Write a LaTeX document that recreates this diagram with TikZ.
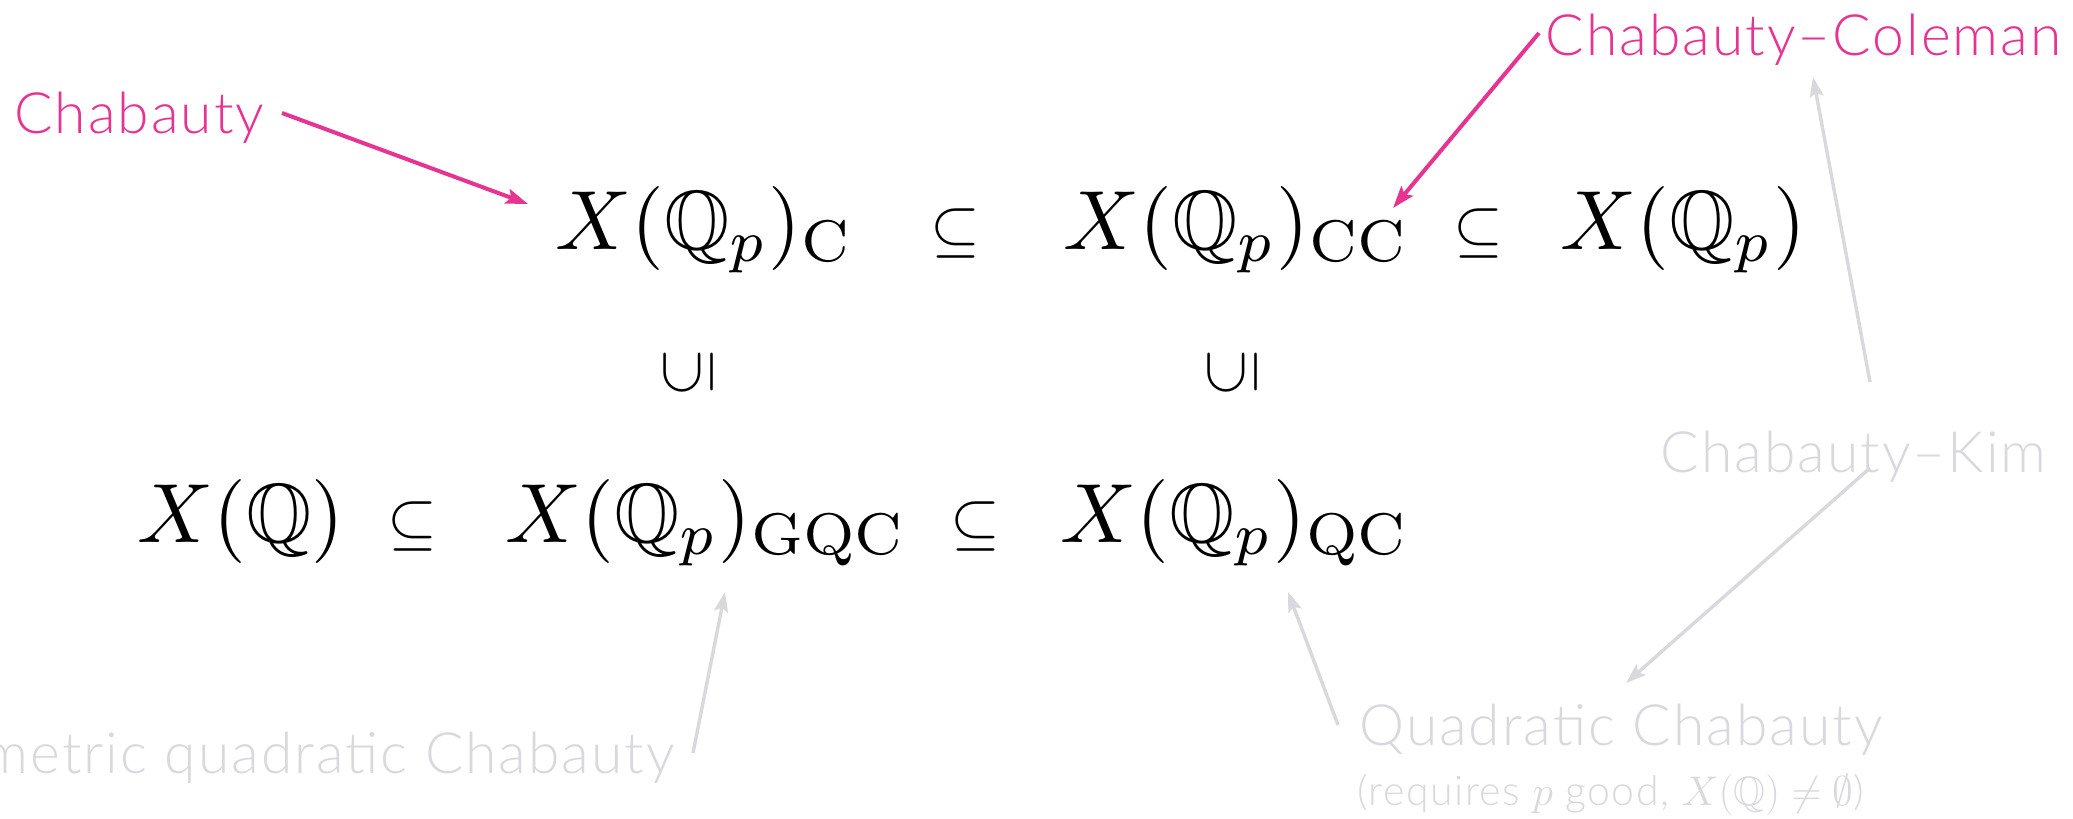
\documentclass[tikz,border=0pt]{standalone}
\usepackage{amssymb}
\usepackage{graphicx}
\usepackage{fontspec}
\newfontfamily\labfont{Lato Light}[LetterSpace=3.5]
\usetikzlibrary{arrows.meta}
\definecolor{cpink}{RGB}{229,52,146}
\definecolor{cgray}{RGB}{217,217,221}
\newcommand\Mbig[1]{\scalebox{4.2}{$#1$}}
\newcommand\Mrel[1]{\scalebox{3.2}{$#1$}}
\begin{document}
\begin{tikzpicture}[x=0.5pt,y=-0.5pt,
  lab/.style={font=\labfont\fontsize{28.5}{32}\selectfont, inner sep=0pt},
  smalllab/.style={font=\labfont\fontsize{20.5}{24}\selectfont, inner sep=0pt, text=cgray},
  pinklab/.style={lab, text=cpink},
  graylab/.style={lab, text=cgray},
  mth/.style={inner sep=0pt, anchor=base west, font=\fontsize{10}{12}\selectfont},
  rel/.style={inner sep=0pt, anchor=base, font=\fontsize{10}{12}\selectfont},
  parr/.style={draw=cpink, line width=2pt, -{Stealth[length=11pt,width=7.5pt,inset=2pt]}},
  garr/.style={draw=cgray, line width=1.7pt, -{Stealth[length=10pt,width=7pt,inset=2pt]}},
]
\useasboundingbox (0,0) rectangle (2073,819);
\clip (0,0) rectangle (2073,819);

% top row
\node[mth] (xc)  at (555,249)  {\Mbig{X(\mathbb{Q}_p)_{\mathrm{C}}}};
\node[rel] (s1)  at (955,249)  {\Mrel{\subseteq}};
\node[mth] (xcc) at (1063,249) {\Mbig{X(\mathbb{Q}_p)_{\mathrm{CC}}}};
\node[rel] (s2)  at (1478,249) {\Mrel{\subseteq}};
\node[mth] (xqp) at (1560,249) {\Mbig{X(\mathbb{Q}_p)}};

% middle
\node[inner sep=0pt, font=\fontsize{10}{12}\selectfont] (u1) at (688,373)  {\rotatebox{90}{\Mrel{\subseteq}}};
\node[inner sep=0pt, font=\fontsize{10}{12}\selectfont] (u2) at (1232,373) {\rotatebox{90}{\Mrel{\subseteq}}};

% bottom row
\node[mth] (xq)   at (137,542)  {\Mbig{X(\mathbb{Q})}};
\node[rel] (s3)   at (412,542)  {\Mrel{\subseteq}};
\node[mth] (xgqc) at (505,542)  {\Mbig{X(\mathbb{Q}_p)_{\mathrm{GQC}}}};
\node[rel] (s4)   at (975,542)  {\Mrel{\subseteq}};
\node[mth] (xqc)  at (1060,542) {\Mbig{X(\mathbb{Q}_p)_{\mathrm{QC}}}};

% labels
\node[pinklab, anchor=base west] (lchab) at (14,133) {Chabauty};
\node[pinklab, anchor=base east] (lcc)   at (2062,55) {Chabauty\textendash Coleman};
\node[graylab, anchor=base east] (lck)   at (2047,472) {Chabauty\textendash Kim};
\node[graylab, anchor=base west] (lqc)   at (1359,745) {Quadratic Chabauty};
\node[smalllab, anchor=base west] (lreq) at (1357,805) {(requires $p$ good, $X(\mathbb{Q})\neq\emptyset$)};
\node[graylab, anchor=base east] (lgqc)  at (675,773) {Geometric quadratic Chabauty};

% arrow end points
\coordinate (a1s) at (282,113);  \coordinate (a1e) at (528,204);
\coordinate (a2s) at (1539,33);  \coordinate (a2e) at (1393,208);
\coordinate (a3s) at (1870,382); \coordinate (a3e) at (1813,77);
\coordinate (a4s) at (1870,468); \coordinate (a4e) at (1626,683);
\coordinate (a5s) at (1338,725); \coordinate (a5e) at (1288,592);
\coordinate (a6s) at (693,753);  \coordinate (a6e) at (725,592);

\draw[parr] (a1s) -- (a1e);
\draw[parr] (a2s) -- (a2e);
\draw[garr] (a3s) -- (a3e);
\draw[garr] (a4s) -- (a4e);
\draw[garr] (a5s) -- (a5e);
\draw[garr] (a6s) -- (a6e);
\end{tikzpicture}
\end{document}
